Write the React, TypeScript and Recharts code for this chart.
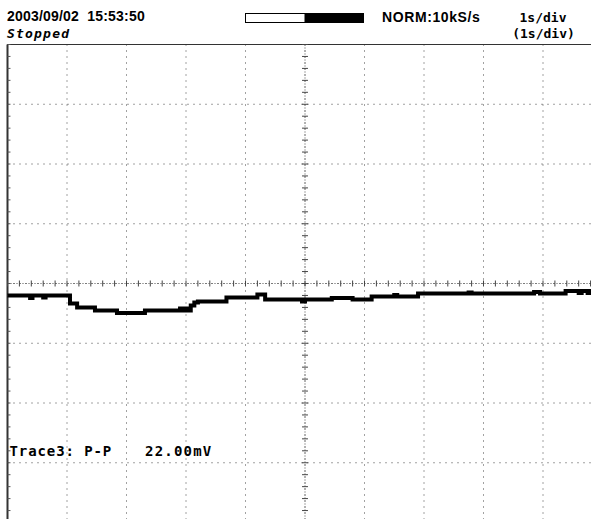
import React from 'react';
import { LineChart, Line, XAxis, YAxis, CartesianGrid, ReferenceLine } from 'recharts';

// Trace3: time (s) and level (mV), held as steps
const times = [
  0, 0.38, 0.42, 0.6, 0.64, 1.05, 1.17, 1.47, 1.84, 2.31, 2.9, 2.95, 3.0, 3.04,
  3.08, 3.14, 3.2, 3.68, 4.2, 4.33, 4.95, 5.0, 5.45, 5.8, 6.12, 6.5, 6.55, 6.9,
  7.75, 7.8, 8.85, 8.95, 9.38, 9.6, 9.65, 9.75, 9.8, 10,
];
const levels = [
  -12, -14.5, -12, -14, -12, -20, -24, -27, -29.5, -27, -25, -27, -25, -27,
  -22, -19, -18, -14, -11, -16, -18, -16, -14.5, -16, -13, -11.5, -13, -10,
  -9, -10, -8.5, -10, -7.5, -9.5, -7.5, -9.5, -7.5, -7.5,
];

// 1 s/div across 10 divisions, 60 mV/div over 8 divisions
const timeTicks = [0, 1, 2, 3, 4, 5, 6, 7, 8, 9, 10];
const levelTicks = [-240, -180, -120, -60, 0, 60, 120, 180, 240];

const data = times.map((t, i) => ({ t, mV: levels[i] }));

// minor ticks: 5 per division
const minorLevels: number[] = [];
for (let v = -240; v <= 240; v += 12) minorLevels.push(v);
const minorTimes: number[] = [];
for (let i = 0; i <= 50; i++) minorTimes.push(Math.round(i * 2) / 10);

const mono = '"DejaVu Sans Mono", monospace';
const sans = '"Liberation Sans", Arial, sans-serif';

export default function App() {
  return (
    <div
      style={{
        position: 'absolute',
        left: 0,
        top: 0,
        width: 591,
        height: 519,
        overflow: 'hidden',
        background: '#fff',
      }}
    >
      <LineChart
        width={603}
        height={523}
        data={data}
        margin={{ top: 44.5, left: 7.5, right: 0.5, bottom: 0.5 }}
      >
        <XAxis dataKey="t" type="number" domain={[0, 10]} ticks={timeTicks} hide />
        <YAxis type="number" domain={[-240, 240]} ticks={levelTicks} hide />
        <CartesianGrid stroke="#444" strokeDasharray="1 5" />
        <ReferenceLine y={240} stroke="#333" strokeWidth={1} />
        <ReferenceLine x={0} stroke="#333" strokeWidth={2} />
        <ReferenceLine x={5} stroke="#555" strokeDasharray="1 2" />
        <ReferenceLine y={0} stroke="#555" strokeDasharray="1 2" />
        {minorLevels.map((v) => (
          <ReferenceLine
            key={'cv' + v}
            segment={[{ x: 4.95, y: v }, { x: 5.05, y: v }]}
            stroke="#444"
          />
        ))}
        {minorLevels.map((v) => (
          <ReferenceLine
            key={'lv' + v}
            segment={[{ x: 0, y: v }, { x: 0.05, y: v }]}
            stroke="#555"
          />
        ))}
        {minorTimes.map((t) => (
          <ReferenceLine
            key={'ch' + t}
            segment={[{ x: t, y: -3 }, { x: t, y: 3 }]}
            stroke="#444"
          />
        ))}
        <Line
          type="stepAfter"
          dataKey="mV"
          stroke="#000"
          strokeWidth={4}
          dot={false}
          isAnimationActive={false}
        />
      </LineChart>
      <svg
        width={591}
        height={519}
        style={{ position: 'absolute', left: 0, top: 0, pointerEvents: 'none' }}
      >
        <text x={7} y={21} fontFamily={sans} fontSize={14} fontWeight="bold" letterSpacing={0.2} style={{ whiteSpace: 'pre' }}>
          2003/09/02  15:53:50
        </text>
        <text x={7} y={37.5} fontFamily={mono} fontSize={13} fontStyle="italic" fontWeight="bold" letterSpacing={1.2}>
          Stopped
        </text>
        <rect x={245.5} y={13.5} width={59.5} height={9} fill="#fff" stroke="#000" />
        <rect x={305} y={13} width={59} height={10} fill="#000" />
        <text x={382} y={21.5} fontFamily={sans} fontSize={14} fontWeight="bold" letterSpacing={0.6}>
          NORM:10kS/s
        </text>
        <text x={543} y={21.5} fontFamily={mono} fontSize={13} fontWeight="bold" textAnchor="middle">
          1s/div
        </text>
        <text x={543.5} y={37.5} fontFamily={mono} fontSize={13} fontWeight="bold" textAnchor="middle">
          (1s/div)
        </text>
        <text x={9.5} y={455.5} fontFamily={mono} fontSize={14} fontWeight="bold" letterSpacing={0.9}>
          Trace3: P-P
        </text>
        <text x={145} y={455.5} fontFamily={mono} fontSize={14} fontWeight="bold" letterSpacing={1.2}>
          22.00mV
        </text>
      </svg>
    </div>
  );
}
